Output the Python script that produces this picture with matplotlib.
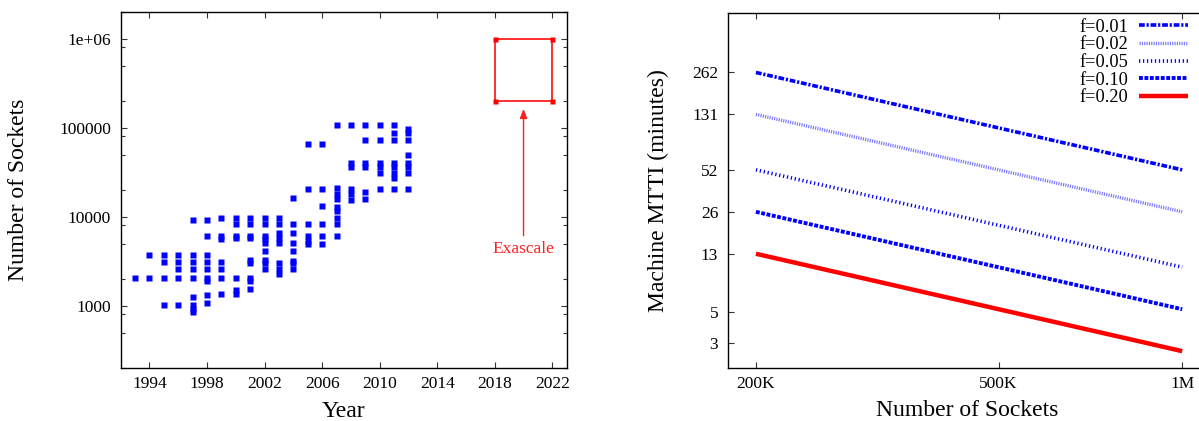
import numpy as np
import matplotlib.pyplot as plt
from matplotlib.ticker import FixedLocator, NullFormatter, NullLocator

plt.rcParams['font.family'] = ['Liberation Serif', 'DejaVu Serif']

# Sockets of the top systems, one list per year
years = [1993, 1994, 1995, 1996, 1997, 1998, 1999, 2000, 2001, 2002,
         2003, 2004, 2005, 2006, 2007, 2008, 2009, 2010, 2011, 2012]
sockets = [
    [2048],
    [3680, 2048],
    [3680, 3072, 2048, 1024],
    [3680, 3072, 2560, 2048, 1024],
    [9152, 3680, 3072, 2560, 2048, 1250, 1024, 930, 860],
    [9152, 6144, 3680, 3072, 2560, 2048, 1900, 1330, 1070],
    [9632, 6144, 5600, 3072, 2560, 2048, 1340],
    [9632, 8192, 6144, 5800, 2048, 1500, 1350],
    [9632, 8192, 6144, 5800, 3300, 3020, 2050, 1900, 1540],
    [9632, 8192, 6144, 5600, 5100, 4150, 3300, 3000, 2580],
    [9632, 8192, 6600, 5800, 5100, 3020, 2580, 2270],
    [16384, 8192, 6560, 5060, 4150, 3200, 3000, 2580],
    [65536, 20480, 8192, 6144, 5400, 4900],
    [65536, 20480, 13200, 8192, 6144, 5000],
    [106496, 21000, 18000, 16000, 13000, 11700, 9632, 8192, 6144],
    [106496, 40000, 36700, 20500, 18000, 15500],
    [106496, 73728, 40000, 36000, 19000, 15800],
    [106496, 73728, 40000, 36000, 31000, 20480],
    [106496, 87000, 73728, 40000, 36000, 31000, 27000, 20480],
    [98000, 88000, 73728, 49152, 40000, 36000, 31000, 20480],
]

# Exascale target region
exa_years = [2018, 2022]
exa_sockets = [2e5, 1e6]
exa_label_year = 2020
exa_arrow = [6130, 1.63e5]
exa_label_at = 3900

# Machine MTTI vs. socket count for several per-socket failure fractions
n_sockets = [200e3, 1e6]
fractions = ['f=0.01', 'f=0.02', 'f=0.05', 'f=0.10', 'f=0.20']
mtti = [
    [262, 52.4],
    [131, 26.2],
    [52.4, 10.5],
    [26.2, 5.24],
    [13.1, 2.62],
]
mtti_ticks = [3, 5, 13, 26, 52, 131, 262]
socket_ticks = [200e3, 500e3, 1e6]
socket_labels = ['200K', '500K', '1M']

styles = [
    dict(color='#0000ff', lw=2.6, dashes=(1.6, 0.5, 0.6, 0.5)),
    dict(color='#7878ff', lw=2.4, dashes=(0.35, 0.35)),
    dict(color='#0000ff', lw=2.6, dashes=(0.35, 0.75)),
    dict(color='#0000ff', lw=2.8, dashes=(1.0, 0.4)),
    dict(color='#ff0000', lw=3.2),
]

tick_fs = 12.5
legend_fs = 13.2
label_fs = 17

fig = plt.figure(figsize=(11.99, 4.21), dpi=100)
ax1 = fig.add_axes([120.7 / 1199, 53 / 421, 446 / 1199, 356 / 421])
ax2 = fig.add_axes([728 / 1199, 53.5 / 421, 478 / 1199, 354.5 / 421])

# ----------- left: sockets per year ------------------
xs = [y for y, s in zip(years, sockets) for _ in s]
ys = [v for s in sockets for v in s]
ax1.plot(xs, ys, linestyle='none', marker='s', ms=3.7, color='#0000ff', mec='none')

red = '#ff2020'
ax1.plot([exa_years[0], exa_years[1], exa_years[1], exa_years[0], exa_years[0]],
         [exa_sockets[0], exa_sockets[0], exa_sockets[1], exa_sockets[1], exa_sockets[0]],
         color=red, lw=1.3)
ax1.plot([exa_years[0], exa_years[1], exa_years[0], exa_years[1]],
         [exa_sockets[0], exa_sockets[0], exa_sockets[1], exa_sockets[1]],
         linestyle='none', marker='s', ms=3.6, color='#ff0000', mec='none')
ax1.annotate('', xy=(exa_label_year, exa_arrow[1]), xytext=(exa_label_year, exa_arrow[0]),
             arrowprops=dict(arrowstyle='-|>,head_length=0.55,head_width=0.22',
                             color=red, lw=1.0, shrinkA=0, shrinkB=0))
ax1.text(exa_label_year, exa_label_at, 'Exascale', color=red, fontsize=tick_fs,
         ha='center', va='baseline')

ax1.set_yscale('log')
ax1.set_xlim(1992, 2023)
ax1.set_ylim(200, 2e6)
ax1.set_xticks(np.arange(1994, 2023, 4))
ax1.yaxis.set_major_locator(FixedLocator([1e3, 1e4, 1e5, 1e6]))
ax1.set_yticklabels(['1000', '10000', '100000', '1e+06'])
minor = [m * 10.0 ** k for k in range(2, 7) for m in (2, 5, 8)]
ax1.yaxis.set_minor_locator(FixedLocator(minor))
ax1.yaxis.set_minor_formatter(NullFormatter())
ax1.set_xlabel('Year', fontsize=label_fs, labelpad=6)
ax1.set_ylabel('Number of Sockets', fontsize=label_fs, labelpad=22)

# ----------- right: machine MTTI ------------------
for lab, vals, st in zip(fractions, mtti, styles):
    ax2.plot(n_sockets, vals, label=lab, solid_capstyle='butt', dash_capstyle='butt', **st)

ax2.set_xscale('log')
ax2.set_yscale('log')
ax2.set_xlim(180e3, 1.094e6)
ax2.set_ylim(2.0, 700)
ax2.xaxis.set_major_locator(FixedLocator(socket_ticks))
ax2.set_xticklabels(socket_labels)
ax2.xaxis.set_minor_locator(NullLocator())
ax2.yaxis.set_major_locator(FixedLocator(mtti_ticks))
ax2.set_yticklabels([str(t) for t in mtti_ticks])
ax2.yaxis.set_minor_locator(NullLocator())
ax2.set_xlabel('Number of Sockets', fontsize=label_fs, labelpad=6)
ax2.set_ylabel('Machine MTTI (minutes)', fontsize=label_fs, labelpad=16.5)
ax2.legend(loc='upper right', bbox_to_anchor=(0.977, 1.004), frameon=False,
           markerfirst=False, fontsize=legend_fs, handlelength=2.65, handletextpad=0.6,
           labelspacing=0.03, borderaxespad=0.0)

for ax in (ax1, ax2):
    ax.tick_params(which='both', direction='in', top=True, right=True,
                   labelsize=tick_fs, width=0.8, color='#333333')
    ax.tick_params(which='major', length=4.5, pad=7)
    ax.tick_params(which='minor', length=3)
    ax.tick_params(axis='x', pad=6)
    for sp in ax.spines.values():
        sp.set_linewidth(1.0)

fig.savefig('out.png', dpi=100)
